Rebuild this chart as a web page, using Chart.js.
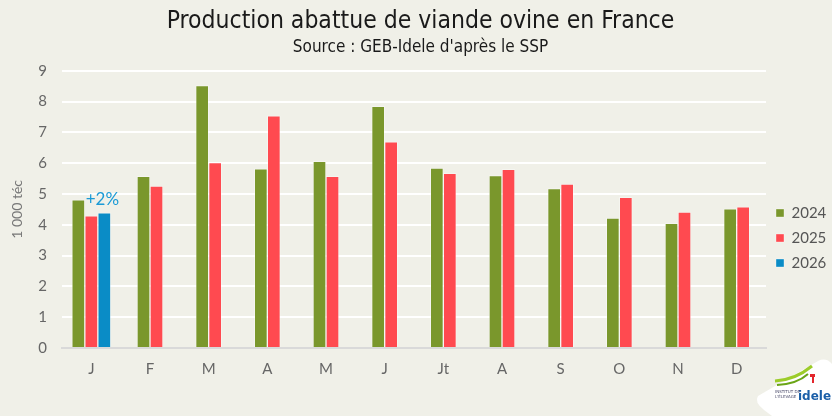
<!DOCTYPE html>
<html lang="fr">

<head>
  <meta charset="UTF-8">
  <title>Production abattue de viande ovine en France</title>
  <style>
    html, body { margin: 0; padding: 0; background: #f0f0e8; }
    #wrap { width: 832px; height: 416px; }
  </style>
</head>

<body>
  <div id="wrap">
    <canvas id="myChart" width="832" height="416"></canvas>
  </div>

  <script src="https://cdn.jsdelivr.net/npm/chart.js"></script>
  <script>
    // donnees (1 000 téc)
    const months = ["J", "F", "M", "A", "M", "J", "Jt", "A", "S", "O", "N", "D"];
    const prod2024 = [4.81, 5.57, 8.52, 5.82, 6.06, 7.85, 5.84, 5.60, 5.18, 4.22, 4.05, 4.52];
    const prod2025 = [4.29, 5.26, 6.02, 7.54, 5.57, 6.69, 5.67, 5.80, 5.32, 4.89, 4.41, 4.58];
    const prod2026 = [4.39, null, null, null, null, null, null, null, null, null, null, null];
    const yTicks = [0, 1, 2, 3, 4, 5, 6, 7, 8, 9];
    const evolutionLabel = "+2%";

    const bg = '#f0f0e8';
    const tickFont = "'Lato', 'DejaVu Sans', sans-serif";
    const titleFont = "'DejaVu Sans Condensed', 'Liberation Sans Narrow', 'Noto Sans', sans-serif";

    // fond + petit logo idele en bas a droite
    const decorPlugin = {
      id: 'decor',
      beforeDraw(chart) {
        const c = chart.ctx;
        c.save();
        c.fillStyle = bg;
        c.fillRect(0, 0, chart.width, chart.height);
        c.restore();
      },
      afterDraw(chart) {
        const c = chart.ctx;
        c.save();
        c.fillStyle = '#ffffff';
        c.beginPath();
        c.moveTo(758, 396);
        c.quadraticCurveTo(754, 402, 764, 410);
        c.lineTo(772, 416);
        c.lineTo(832, 416);
        c.lineTo(832, 364);
        c.quadraticCurveTo(826, 357, 818, 361);
        c.closePath();
        c.fill();
        // swoosh vert
        c.strokeStyle = '#9ccc2a';
        c.lineWidth = 3;
        c.beginPath();
        c.moveTo(775, 381);
        c.quadraticCurveTo(795, 380, 812, 366);
        c.stroke();
        c.strokeStyle = '#6aa516';
        c.lineWidth = 2;
        c.beginPath();
        c.moveTo(777, 385);
        c.quadraticCurveTo(797, 384, 808, 374);
        c.stroke();
        c.fillStyle = '#e3262d';
        c.fillRect(810, 374, 5, 3);
        c.fillRect(812, 377, 2, 6);
        c.fillStyle = '#1b5fa8';
        c.font = "bold 12px 'DejaVu Sans', sans-serif";
        c.fillText('idele', 798, 400);
        c.fillStyle = '#4a4a6a';
        c.font = "4px 'DejaVu Sans', sans-serif";
        c.fillText('INSTITUT DE', 775, 393);
        c.fillText("L'ÉLEVAGE", 775, 398);
        c.restore();
      }
    };

    // etiquette d'evolution au-dessus de la barre 2026
    const labelPlugin = {
      id: 'evoLabel',
      afterDatasetsDraw(chart) {
        const meta = chart.getDatasetMeta(2);
        const bar = meta.data[0];
        if (!bar) return;
        const c = chart.ctx;
        c.save();
        c.fillStyle = '#1a9ad6';
        c.font = "17px " + tickFont;
        c.textAlign = 'center';
        c.textBaseline = 'alphabetic';
        c.fillText(evolutionLabel, bar.x - 2, bar.y - 8);
        c.restore();
      }
    };

    const ctx = document.getElementById('myChart');
    const chart = new Chart(ctx, {
      type: 'bar',
      data: {
        labels: months,
        datasets: [
          { label: '2024', data: prod2024, backgroundColor: '#7a972c', borderColor: 'rgba(255,255,255,0.35)', borderWidth: 1 },
          { label: '2025', data: prod2025, backgroundColor: '#ff4a50', borderColor: 'rgba(255,255,255,0.35)', borderWidth: 1 },
          { label: '2026', data: prod2026, backgroundColor: '#0a8cc6', borderColor: 'rgba(255,255,255,0.35)', borderWidth: 1 }
        ]
      },
      options: {
        responsive: false,
        animation: false,
        skipNull: true,
        barThickness: 13,
        layout: { padding: { left: 9, right: 0, top: 0, bottom: 10 } },
        plugins: {
          title: {
            display: true,
            text: 'Production abattue de viande ovine en France',
            color: '#1a1a1a',
            font: { family: titleFont, size: 24.5, weight: 'normal' },
            padding: { top: 7, bottom: 1 }
          },
          subtitle: {
            display: true,
            text: "Source : GEB-Idele d'après le SSP",
            color: '#1a1a1a',
            font: { family: titleFont, size: 17, weight: 'normal' },
            padding: { top: 0, bottom: 13 }
          },
          legend: {
            position: 'right',
            maxWidth: 66,
            title: {
              display: true,
              text: ' ',
              color: 'rgba(0,0,0,0)',
              font: { size: 10 },
              padding: { top: 29, bottom: 29 }
            },
            labels: {
              boxWidth: 8,
              boxHeight: 8,
              padding: 10,
              color: '#555555',
              font: { family: tickFont, size: 15 }
            }
          },
          tooltip: { enabled: false }
        },
        scales: {
          x: {
            grid: { display: false, drawTicks: false },
            border: { display: true, color: '#d9d9d9', width: 2 },
            ticks: { color: '#666666', padding: 12, font: { family: tickFont, size: 15 } },
            afterFit(scale) { scale.height = 58; }
          },
          y: {
            min: 0,
            max: 9,
            afterBuildTicks(scale) { scale.ticks = yTicks.map(v => ({ value: v })); },
            grid: { color: '#ffffff', lineWidth: 2, drawTicks: false },
            border: { display: false },
            ticks: { color: '#666666', padding: 15, font: { family: tickFont, size: 15 } },
            title: {
              display: true,
              text: '1 000 téc',
              color: '#777777',
              font: { family: tickFont, size: 14 },
              padding: { top: 0, bottom: 6 }
            },
            afterFit(scale) { scale.width = 53; }
          }
        }
      },
      plugins: [decorPlugin, labelPlugin]
    });
  </script>
</body>

</html>
